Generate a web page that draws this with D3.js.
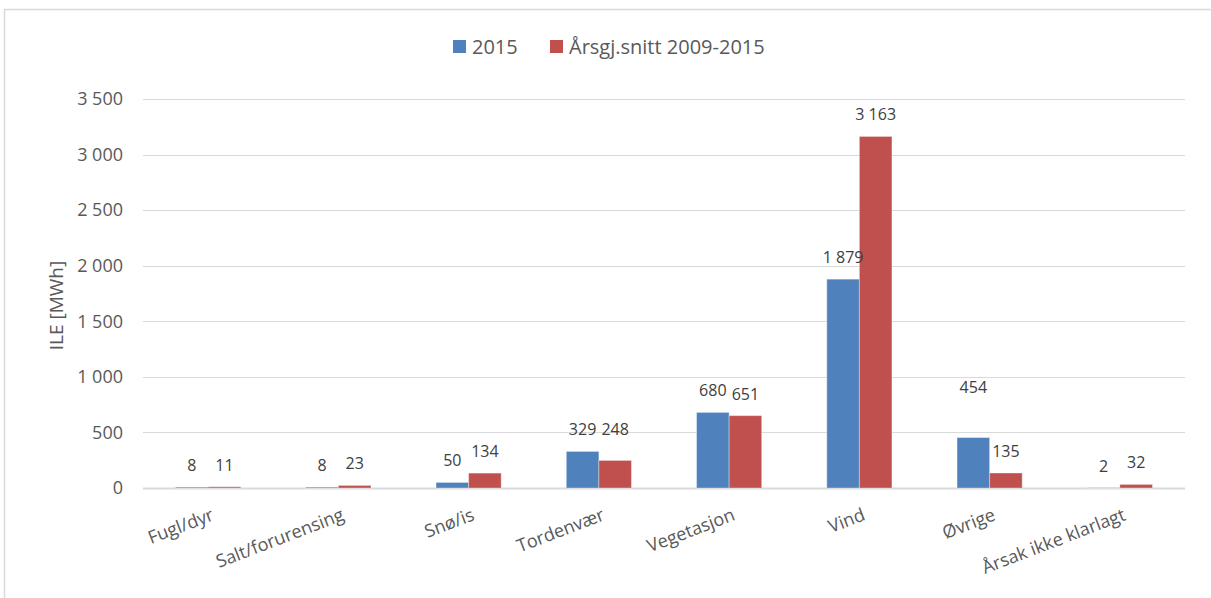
<!DOCTYPE html>
<html>
<head>
<meta charset="utf-8">
<script src="https://cdn.jsdelivr.net/npm/d3@7"></script>
<style>
  body { margin: 0; background: #fff; }
  svg { font-family: "Open Sans", "Noto Sans", sans-serif; }
</style>
</head>
<body>
<div data-js-graph></div>
<script>
const categories = ['Fugl/dyr', 'Salt/forurensing', 'Snø/is', 'Tordenvær', 'Vegetasjon', 'Vind', 'Øvrige', 'Årsak ikke klarlagt'];
const seriesNames = ['2015', 'Årsgj.snitt 2009-2015'];
const values2015 = [8, 8, 50, 329, 680, 1879, 454, 2];
const valuesAvg = [11, 23, 134, 248, 651, 3163, 135, 32];
const yTicks = [0, 500, 1000, 1500, 2000, 2500, 3000, 3500];
const colors = ['#4F81BD', '#C0504D'];

// a couple of data labels were moved by hand in the original
const labelNudge = { 'Tordenvær|1': -9, 'Øvrige|0': -29 };

const SETTING = {
  width: 1211,
  height: 598,
  left: 143,
  right: 1185,
  top: 99,
  bottom: 488,
};

const fmt = (v) => d3.format(',')(v).replace(/,/g, ' ');

const svg = d3.select('[data-js-graph]').append('svg')
  .attr('width', SETTING.width)
  .attr('height', SETTING.height);

// chart frame
svg.append('path')
  .attr('d', `M4.5,${SETTING.height} V9.5 H${SETTING.width}`)
  .attr('fill', 'none')
  .attr('stroke', '#d9d9d9')
  .attr('stroke-width', 1.5);

const x = d3.scaleBand()
  .domain(categories)
  .range([SETTING.left, SETTING.right]);

const x1 = d3.scaleBand()
  .domain([0, 1])
  .range([x.bandwidth() * 0.25, x.bandwidth() * 0.75]);

const y = d3.scaleLinear()
  .domain([0, 3500])
  .range([SETTING.bottom, SETTING.top]);

// gridlines
svg.append('g')
  .selectAll('line')
  .data(yTicks)
  .enter()
  .append('line')
  .attr('x1', SETTING.left)
  .attr('x2', SETTING.right)
  .attr('y1', (d) => Math.round(y(d)) + 0.5)
  .attr('y2', (d) => Math.round(y(d)) + 0.5)
  .attr('stroke', '#d9d9d9')
  .attr('stroke-width', (d) => (d === 0 ? 2 : 1));

// y axis labels
svg.append('g')
  .selectAll('text')
  .data(yTicks)
  .enter()
  .append('text')
  .attr('x', 123)
  .attr('y', (d) => y(d))
  .attr('dy', '0.35em')
  .attr('text-anchor', 'end')
  .attr('fill', '#595959')
  .style('font-size', '18px')
  .text(fmt);

svg.append('text')
  .attr('transform', `translate(63,${(SETTING.top + SETTING.bottom) / 2 + 12}) rotate(-90)`)
  .attr('text-anchor', 'middle')
  .attr('fill', '#595959')
  .style('font-size', '19px')
  .text('ILE [MWh]');

// bars
const rows = categories.map((c, i) => ({ cat: c, vals: [values2015[i], valuesAvg[i]] }));

const groups = svg.append('g')
  .selectAll('g')
  .data(rows)
  .enter()
  .append('g')
  .attr('transform', (d) => `translate(${x(d.cat)},0)`);

groups.selectAll('rect')
  .data((d) => d.vals.map((v, s) => ({ cat: d.cat, v, s })))
  .enter()
  .append('rect')
  .attr('x', (d) => x1(d.s))
  .attr('width', x1.bandwidth())
  .attr('y', (d) => y(d.v))
  .attr('height', (d) => y(0) - y(d.v))
  .attr('fill', (d) => colors[d.s])
  .attr('stroke', 'rgba(255,255,255,0.35)')
  .attr('stroke-width', 1);

groups.selectAll('text')
  .data((d) => d.vals.map((v, s) => ({ cat: d.cat, v, s })))
  .enter()
  .append('text')
  .attr('x', (d) => x1(d.s) + x1.bandwidth() / 2)
  .attr('y', (d) => y(d.v) - 16 + (labelNudge[`${d.cat}|${d.s}`] || 0))
  .attr('text-anchor', 'middle')
  .attr('fill', '#404040')
  .style('font-size', '16px')
  .text((d) => fmt(d.v));

// category labels, rotated
svg.append('g')
  .selectAll('text')
  .data(categories)
  .enter()
  .append('text')
  .attr('transform', (d) => `translate(${x(d) + x.bandwidth() / 2 + 2},${SETTING.bottom + 19}) rotate(-21)`)
  .attr('text-anchor', 'end')
  .attr('dy', '0.75em')
  .attr('fill', '#595959')
  .style('font-size', '18px')
  .text((d) => d);

// legend
const legend = svg.append('g')
  .attr('transform', 'translate(453,40)');

const legendX = [0, 97];
seriesNames.forEach((name, i) => {
  legend.append('rect')
    .attr('x', legendX[i])
    .attr('y', 0)
    .attr('width', 13)
    .attr('height', 13)
    .attr('fill', colors[i]);
  legend.append('text')
    .attr('x', legendX[i] + 19)
    .attr('y', 7)
    .attr('dy', '0.35em')
    .attr('fill', '#595959')
    .style('font-size', '20px')
    .text(name);
});
</script>
</body>
</html>
